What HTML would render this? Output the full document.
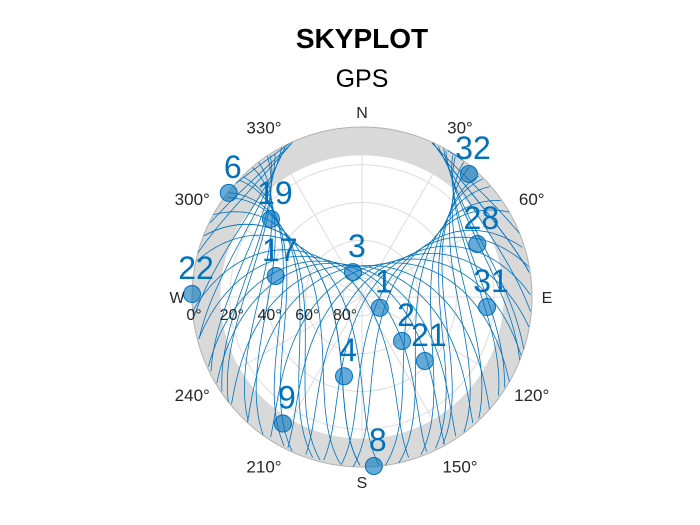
<!DOCTYPE html>
<html><head><meta charset="utf-8"><style>
html,body{margin:0;padding:0;background:#fff;width:700px;height:525px;overflow:hidden}
svg text{font-family:"Liberation Sans",sans-serif}
</style></head><body>
<svg id="chart" width="700" height="525" viewBox="0 0 700 525">
<text x="362" y="48" text-anchor="middle" font-size="28" font-weight="bold" fill="#000">SKYPLOT</text>
<text x="362" y="87" text-anchor="middle" font-size="25" fill="#000">GPS</text>
<g id="bg"></g>
<g id="grid"></g>
<g id="tracks"></g>
<g id="sats"></g>
<g id="labels"></g>
</svg>
<script>
// satellite data (azimuth deg, elevation deg)
const satIds = ["32","6","19","28","17","3","22","1","31","2","21","4","9","8"];
const satAz  = [41, 308, 310.6, 65.3, 283.7, 340, 271, 121, 94.6, 137.7, 135.5, 192.8, 212, 176];
const satEl  = [3.7, 0.5, 26.5, 22.8, 43, 76, 0, 79, 23.6, 58.5, 42.5, 47, 11, 0.3];
const azTicks = [30,60,120,150,210,240,300,330];
const elTicks = [0,20,40,60,80];
const maskEl = 15;

const NS="http://www.w3.org/2000/svg";
const cx=362, cy=297, R=170;
function rOf(el){return R*(90-el)/90;}
function xy(az,el){const r=rOf(el),a=az*Math.PI/180;return [cx+r*Math.sin(a),cy-r*Math.cos(a)];}
function mk(tag,attrs,parent){const e=document.createElementNS(NS,tag);for(const k in attrs)e.setAttribute(k,attrs[k]);parent.appendChild(e);return e;}

const bg=document.getElementById('bg');
let c=mk('circle',{cx,cy,r:R,fill:'#d9d9d9',stroke:'none'},bg);


c=mk('circle',{cx,cy,r:rOf(maskEl),fill:'#fff'},bg);



const grid=document.getElementById('grid');
for(const el of [20,40,60,80]){
  c=mk('circle',{cx,cy,r:rOf(el),fill:'none',stroke:'#dcdcdc','stroke-width':1},grid);
  
  
}
for(let az=0;az<360;az+=30){
  const p=xy(az,0);
  const l=mk('line',{x1:cx,y1:cy,x2:p[0],y2:p[1],stroke:'#dcdcdc','stroke-width':1},grid);
  
  
}
c=mk('circle',{cx,cy,r:R,fill:'none',stroke:'#b0b0b0','stroke-width':1},grid);



// satellite tracks from a nominal GPS constellation, observer ~42N
const tracks=document.getElementById('tracks');
(function(){
  const a=26560, Re=6371, inc=55*Math.PI/180, Tsid=86164, n=2*Math.PI/(Tsid/2), we=2*Math.PI/Tsid;
  const lat=42.3*Math.PI/180, lon=-71*Math.PI/180;
  const ox=Re*Math.cos(lat)*Math.cos(lon), oy=Re*Math.cos(lat)*Math.sin(lon), oz=Re*Math.sin(lat);
  const phases=[[0,95,190,280,330],[40,130,225,310],[70,160,250,345,20],[15,110,200,290],[55,145,240,320,185],[85,175,265,355]];
  for(let p=0;p<6;p++){
    const Om=(p*60+12)*Math.PI/180;
    for(const ph of phases[p]){
      let d='', prevUp=false;
      for(let t=0;t<=Tsid;t+=240){
        const u=ph*Math.PI/180+n*t;
        const xo=a*Math.cos(u), yo=a*Math.sin(u);
        const y1=yo*Math.cos(inc), z1=yo*Math.sin(inc);
        const X=xo*Math.cos(Om)-y1*Math.sin(Om), Y=xo*Math.sin(Om)+y1*Math.cos(Om), Z=z1;
        const th=-we*t;
        const Xe=X*Math.cos(th)-Y*Math.sin(th), Ye=X*Math.sin(th)+Y*Math.cos(th);
        const dx=Xe-ox, dy=Ye-oy, dz=Z-oz;
        const e=-Math.sin(lon)*dx+Math.cos(lon)*dy;
        const nn=-Math.sin(lat)*Math.cos(lon)*dx-Math.sin(lat)*Math.sin(lon)*dy+Math.cos(lat)*dz;
        const uu=Math.cos(lat)*Math.cos(lon)*dx+Math.cos(lat)*Math.sin(lon)*dy+Math.sin(lat)*dz;
        const el=Math.atan2(uu,Math.hypot(e,nn))*180/Math.PI;
        const az=Math.atan2(e,nn)*180/Math.PI;
        if(el>=0){const q=xy(az,el);d+=(prevUp?'L':'M')+q[0].toFixed(1)+' '+q[1].toFixed(1);prevUp=true;}
        else prevUp=false;
      }
      if(d){
        const pth=mk('path',{d,fill:'none',stroke:'#0072BD','stroke-width':0.8},tracks);
        
        
      }
    }
  }
})();

const sats=document.getElementById('sats');
for(let i=0;i<satIds.length;i++){
  const p=xy(satAz[i],satEl[i]);
  const m=mk('circle',{cx:p[0],cy:p[1],r:8.5,fill:'rgba(0,114,189,0.6)',stroke:'#0072BD','stroke-width':1},sats);
  
  
  const t=mk('text',{x:p[0]+4,y:p[1]-15,'text-anchor':'middle','font-size':32,fill:'#0072BD'},sats);
  t.textContent=satIds[i];
  
  
}

const labels=document.getElementById('labels');
const card=[["N",0],["E",90],["S",180],["W",270]];
for(const [s,az] of card){
  const a=az*Math.PI/180, r=R+15;
  const t=mk('text',{x:cx+r*Math.sin(a),y:cy-r*Math.cos(a)+6,'text-anchor':'middle','font-size':16,fill:'#262626'},labels);
  t.textContent=s;
  
  
}
for(const az of azTicks){
  const a=az*Math.PI/180, r=R+26;
  const t=mk('text',{x:cx+r*Math.sin(a),y:cy-r*Math.cos(a)+6,'text-anchor':'middle','font-size':17,fill:'#262626'},labels);
  t.textContent=az+'°';
  
  
}
for(const el of elTicks){
  const t=mk('text',{x:cx-rOf(el)+2,y:cy+23,'text-anchor':'middle','font-size':16,fill:'#262626'},labels);
  t.textContent=el+'°';
  
  
}
</script>
</body></html>
